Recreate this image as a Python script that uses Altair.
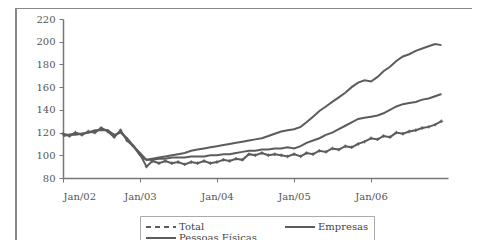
import altair as alt
import pandas as pd

months = pd.date_range("2002-01-01", "2006-12-01", freq="MS")

total = [118, 118, 119, 119, 120, 121, 123, 122, 117, 121, 114, 108,
         102, 96, 96, 97, 97, 98, 98, 98, 99, 99, 99, 100,
         100, 101, 101, 102, 103, 104, 104, 105, 105, 106, 106, 107,
         106, 108, 111, 113, 115, 118, 120, 123, 126, 129, 132, 133,
         134, 135, 137, 140, 143, 145, 146, 147, 149, 150, 152, 154]

empresas = [119, 117, 120, 118, 121, 120, 124, 121, 116, 122, 113, 108,
            101, 90, 95, 93, 95, 93, 94, 92, 94, 93, 95, 93,
            94, 96, 95, 97, 96, 101, 100, 102, 100, 101, 100, 99,
            101, 99, 102, 101, 104, 103, 106, 105, 108, 107, 110, 112,
            115, 114, 117, 116, 120, 119, 121, 122, 124, 125, 127, 130]

pessoas = [117, 118, 118, 119, 120, 122, 122, 122, 118, 120, 115, 108,
           100, 96, 97, 98, 99, 100, 101, 102, 104, 105, 106, 107,
           108, 109, 110, 111, 112, 113, 114, 115, 117, 119, 121, 122,
           123, 125, 129, 134, 139, 143, 147, 151, 155, 160, 164, 166,
           165, 169, 174, 178, 183, 187, 189, 192, 194, 196, 198, 197]

series_names = ["Total", "Empresas", "Pessoas Físicas"]
legend_order = ["Total", "Pessoas Físicas", "Empresas"]
y_ticks = [80, 100, 120, 140, 160, 180, 200, 220]
x_ticks = ["2002-01-01", "2003-01-01", "2004-01-01", "2005-01-01", "2006-01-01"]

rows = []
for name, vals in zip(series_names, [total, empresas, pessoas]):
    for d, v in zip(months, vals):
        rows.append({"date": d, "series": name, "value": v})
df = pd.DataFrame(rows)

FONT = "DejaVu Serif"
GRAY = "#5c5c5c"

x_axis = alt.Axis(values=x_ticks, format="Jan/%y", labelFont=FONT,
                  labelFontSize=10, labelColor="#555", grid=False,
                  tickSize=4, tickColor="#777", domainColor="#777",
                  domainWidth=1.5, labelPadding=9, labelOverlap=False)
y_axis = alt.Axis(values=y_ticks, labelFont=FONT, labelFontSize=10,
                  labelColor="#555", grid=False, tickSize=4,
                  tickColor="#777", domainColor="#777",
                  domainWidth=1.5, labelPadding=4, labelOverlap=False)
x_scale = alt.Scale(domain=["2002-01-01", "2007-01-01"])
y_scale = alt.Scale(domain=[80, 220], nice=False, zero=False)

x_enc = alt.X("date:T", title=None, scale=x_scale, axis=x_axis)
y_enc = alt.Y("value:Q", title=None, scale=y_scale, axis=y_axis)

lines = alt.Chart(df).mark_line(color=GRAY, strokeWidth=2).encode(
    x=x_enc, y=y_enc, detail="series:N")

points = alt.Chart(df).transform_filter(alt.datum.series == "Empresas").mark_point(
    shape="cross", filled=True, color=GRAY, size=12, opacity=0.8).encode(
    x=x_enc, y=y_enc)

legend_layer = alt.Chart(df).transform_filter("false").mark_line(
    color=GRAY, strokeWidth=2).encode(
    x=x_enc, y=y_enc,
    strokeDash=alt.StrokeDash(
        "series:N",
        scale=alt.Scale(domain=legend_order, range=[[5, 4], [1, 0], [1, 0]]),
        legend=alt.Legend(title=None, orient="none", legendX=77, legendY=197,
                          columns=2, columnPadding=24, rowPadding=0,
                          symbolType="M-1,0H5", symbolSize=100,
                          symbolStrokeColor=GRAY, symbolStrokeWidth=2,
                          labelOffset=22, labelFont=FONT, labelFontSize=10,
                          labelColor="#444", strokeColor="#aaa", padding=5,
                          fillColor="white")))

frame_left = alt.Chart(df).mark_rule(color="#888", strokeWidth=1.5).encode(
    x=alt.value(-47), y=alt.value(-11), y2=alt.value(230))
frame_top = alt.Chart(df).mark_rule(color="#888", strokeWidth=1.5).encode(
    x=alt.value(-47), x2=alt.value(420), y=alt.value(-11))

chart = alt.layer(lines, points, legend_layer, frame_left, frame_top).properties(
    width=385, height=159,
    autosize=alt.AutoSizeParams(type="none"),
    padding={"left": 55, "top": 11, "right": 24, "bottom": 62},
    background="white",
).configure_view(stroke=None).configure_axis(labelOverlap=False)

chart.save("out.html", embed_options={"renderer": "svg", "actions": False})
